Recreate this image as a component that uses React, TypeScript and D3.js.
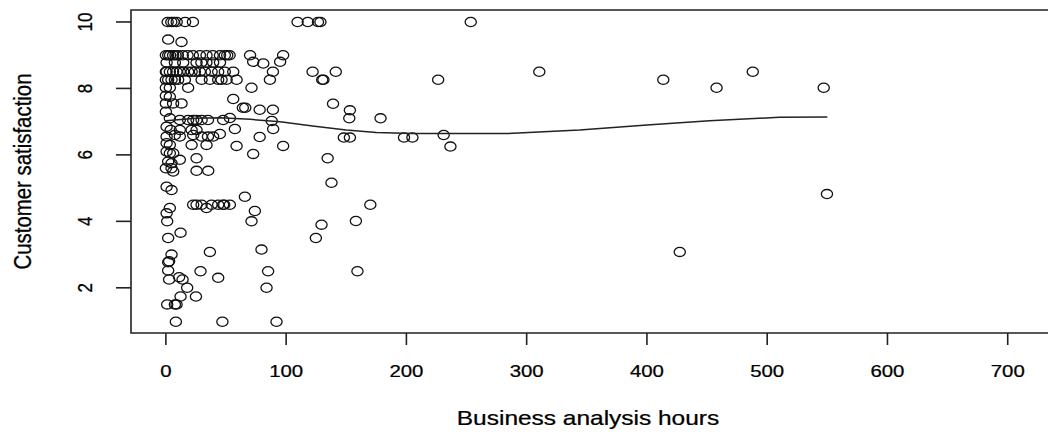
import React from "react";
import * as d3 from "d3";

// scatter of business analysis hours vs customer satisfaction (R base graphics look)
const hours = [
  1.5, 4.5, 6.5, 9, 16, 22.5, 109.5, 118, 126.5, 128.5, 253.5,
  1.9, 13,
  0, 1.9, 3.5, 6, 8, 10, 14, 18, 22.4, 28.3, 33.8, 39, 45, 49, 51, 53, 70, 97.5,
  0.6, 7.5, 14.4, 25.5, 29.5, 33.7, 39.3, 45, 72.6, 81, 95,
  0, 0.6, 3.3, 6, 8.9, 11.6, 14.4, 18.5, 21.4, 24.1, 28.3, 32.4, 38, 43.5, 49, 56, 89, 122, 141.3, 310.5, 488,
  0, 1.9, 4.7, 7.5, 10.2, 15.8, 29.7, 36.6, 43.5, 46.3, 50.5, 58.8, 86.5, 130, 131, 226.4, 413.6,
  0, 3.3, 18.5, 71.2, 457.9, 547,
  0, 3.3, 56,
  0, 6, 13, 139,
  64, 66, 78, 89, 153, 0,
  3.3, 11.6, 18.5, 22.7, 25.5, 29.7, 35, 47.6, 53.2, 88, 152.5, 178.5,
  0.6, 4, 11.6, 21.4, 25.5, 57.4, 89.2, 44.9,
  0.6, 7.5, 11.6, 22.7, 29.7, 35, 39.3, 78, 148, 153, 198, 205, 231,
  0.6, 3.3, 21.4, 33.8, 58.8, 97.5, 236.6,
  0.6, 3.3, 6.1, 72.6,
  11.6, 25.5, 134.5, 1.9, 4.7,
  0, 4.7, 6.1, 25.5, 35.2, 137.7,
  0.6, 4.7, 65.7,
  22.7, 25.5, 29.7, 38, 43.5, 47.6, 48.5, 53.2, 170,
  3.3, 33.8, 74, 0.6,
  1.1, 71.2, 158, 129.4,
  1.9, 12.2, 124.7,
  4.7, 36.6, 79.5, 427.3,
  1.9, 2.7,
  1.9, 28.8, 85, 159.3,
  2.7, 11, 13.9, 43.5,
  17.7, 83.7, 12.2, 25,
  1.1, 7.5, 8.9,
  8.3, 47, 92,
  549.7,
];

const satisfaction = [
  10, 10, 10, 10, 10, 10, 10, 10, 10, 10, 10,
  9.47, 9.4,
  9, 9, 9, 9, 9, 9, 9, 9, 9, 9, 9, 9, 9, 9, 9, 9, 9, 9,
  8.78, 8.78, 8.78, 8.78, 8.78, 8.78, 8.78, 8.78, 8.8, 8.75, 8.8,
  8.5, 8.5, 8.5, 8.5, 8.5, 8.5, 8.5, 8.5, 8.5, 8.5, 8.5, 8.5, 8.5, 8.5, 8.5, 8.5, 8.5, 8.5, 8.5, 8.5, 8.5,
  8.26, 8.26, 8.26, 8.26, 8.26, 8.26, 8.26, 8.26, 8.26, 8.26, 8.26, 8.26, 8.26, 8.26, 8.26, 8.26, 8.26,
  8.02, 8.02, 8.02, 8.02, 8.02, 8.02,
  7.78, 7.75, 7.68,
  7.55, 7.55, 7.55, 7.54,
  7.42, 7.42, 7.36, 7.36, 7.34, 7.3,
  7.1, 7.05, 7.05, 7.05, 7.05, 7.05, 7.05, 7.05, 7.11, 7.02, 7.1, 7.1,
  6.85, 6.75, 6.75, 6.75, 6.75, 6.78, 6.78, 6.63,
  6.55, 6.6, 6.55, 6.6, 6.55, 6.55, 6.55, 6.54, 6.52, 6.52, 6.52, 6.52, 6.6,
  6.35, 6.3, 6.3, 6.3, 6.27, 6.27, 6.25,
  6.1, 6.05, 6.05, 6.03,
  5.85, 5.9, 5.9, 5.8, 5.75,
  5.6, 5.6, 5.5, 5.52, 5.52, 5.16,
  5.04, 4.94, 4.74,
  4.5, 4.5, 4.5, 4.5, 4.5, 4.5, 4.5, 4.5, 4.5,
  4.4, 4.4, 4.31, 4.24,
  4.0, 4.0, 4.01, 3.9,
  3.5, 3.66, 3.5,
  3.0, 3.08, 3.15, 3.08,
  2.77, 2.8,
  2.52, 2.5, 2.5, 2.5,
  2.25, 2.32, 2.25, 2.3,
  2.0, 2.0, 1.74, 1.74,
  1.5, 1.5, 1.5,
  0.98, 0.98, 0.98,
  4.82,
];

// lowess smooth
const smoothHours = [0, 25, 45, 70, 95, 122, 150, 175, 205, 283, 344, 400, 452, 510, 550];
const smoothSat = [7.03, 7.1, 7.12, 7.07, 7.0, 6.87, 6.75, 6.67, 6.64, 6.64, 6.75, 6.9, 7.03, 7.13, 7.14];

const xTicks = [0, 100, 200, 300, 400, 500, 600, 700];
const yTicks = [2, 4, 6, 8, 10];

const W = 1048;
const H = 434;
const FONT = '"Liberation Sans", Arial, sans-serif';
const STRETCH = 1.2; // the picture is a little wider than tall

const App = () => {
  const left = 131, top = 10, right = 1045, bottom = 333;

  const x = d3.scaleLinear().domain([-29, 731]).range([left, right]);
  const y = d3.scaleLinear().domain([0.64, 10.36]).range([bottom, top]);

  const smooth = d3
    .line<number>()
    .x((d, i) => x(smoothHours[i]))
    .y((d) => y(d));

  const textStyle = { fill: "#000", stroke: "#000", strokeWidth: 0.25 };

  return (
    <svg
      width={W}
      height={H}
      style={{ position: "absolute", left: 0, top: 0, background: "#fff" }}
      fontFamily={FONT}
    >
      <rect x={0} y={0} width={W} height={H} fill="#fff" />

      {/* plot box, right side runs off the picture */}
      <path
        d={`M${right + 10},${top}H${left}V${bottom}H${right + 10}`}
        fill="none"
        stroke="#222"
        strokeWidth={1.6}
      />

      {/* y axis */}
      {yTicks.map((v) => (
        <g key={"y" + v}>
          <line x1={left - 15} x2={left} y1={y(v)} y2={y(v)} stroke="#222" strokeWidth={1.6} />
          <text
            transform={`translate(85,${y(v)}) scale(${STRETCH},1) rotate(-90)`}
            textAnchor="middle"
            dominantBaseline="central"
            fontSize={17}
            style={textStyle}
          >
            {v}
          </text>
        </g>
      ))}

      {/* x axis */}
      {xTicks.map((v) => (
        <g key={"x" + v}>
          <line x1={x(v)} x2={x(v)} y1={bottom} y2={bottom + 12} stroke="#222" strokeWidth={1.6} />
          <text
            transform={`translate(${x(v)},371) scale(${STRETCH},1)`}
            textAnchor="middle"
            dominantBaseline="central"
            fontSize={17}
            style={textStyle}
          >
            {v}
          </text>
        </g>
      ))}

      <text
        transform={`translate(588,418) scale(${STRETCH},1)`}
        textAnchor="middle"
        dominantBaseline="central"
        fontSize={20.4}
        style={textStyle}
      >
        Business analysis hours
      </text>
      <text
        transform={`translate(23,${(top + bottom) / 2}) scale(${STRETCH},1) rotate(-90)`}
        textAnchor="middle"
        dominantBaseline="central"
        fontSize={20.4}
        style={textStyle}
      >
        Customer satisfaction
      </text>

      {/* points */}
      {hours.map((h, i) => (
        <ellipse
          key={"p" + i}
          cx={x(h)}
          cy={y(satisfaction[i])}
          rx={5.6}
          ry={4.6}
          fill="none"
          stroke="#111"
          strokeWidth={1.3}
        />
      ))}

      <path d={smooth(smoothSat) || ""} fill="none" stroke="#222" strokeWidth={1.5} />
    </svg>
  );
};

export default App;
